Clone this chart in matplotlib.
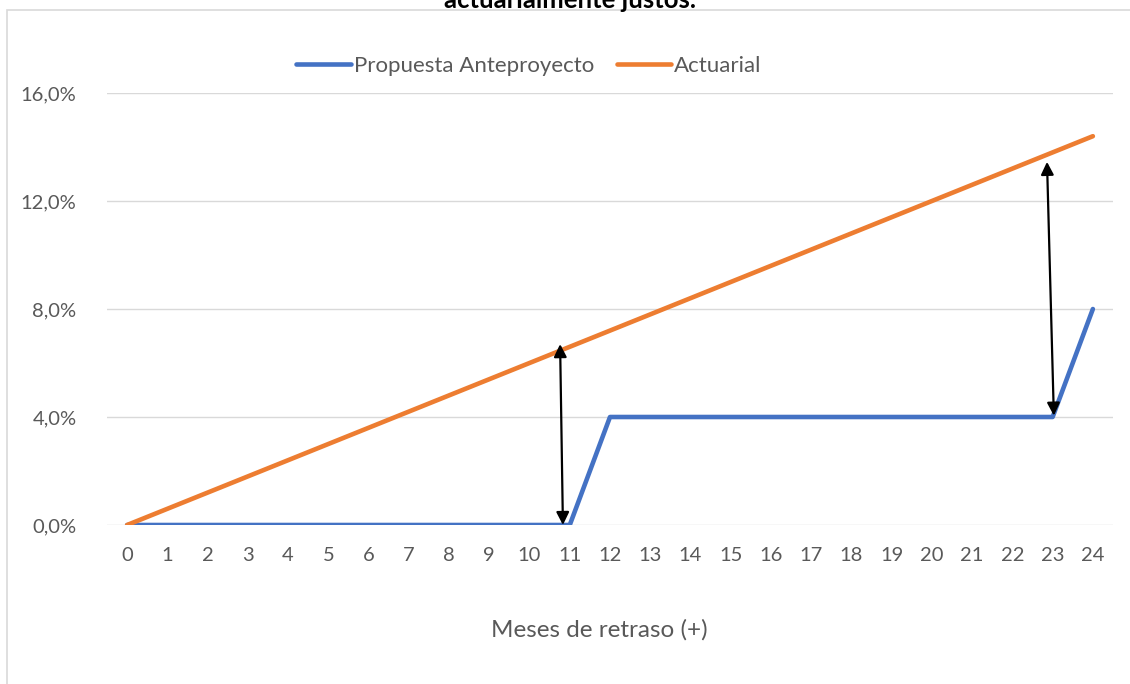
import numpy as np
import matplotlib.pyplot as plt
from matplotlib.patches import Rectangle

plt.rcParams['font.family'] = ['Lato', 'DejaVu Sans']

meses = list(range(25))
propuesta = [0.0] * 12 + [4.0] * 12 + [8.0]
propuesta[11] = 0.0
actuarial = [0.6 * m for m in meses]
# arrows: (x_bottom, y_bottom, x_top, y_top)
flecha_1 = (10.83, 0.0, 10.76, 6.7)
flecha_2 = (23.03, 4.05, 22.86, 13.45)
y_ticks = [0, 4, 8, 12, 16]
y_tick_labels = ['0,0%', '4,0%', '8,0%', '12,0%', '16,0%']

fig = plt.figure(figsize=(11.3, 6.84), dpi=100)
ax = fig.add_axes([107 / 1130, 1 - 525 / 684, (1113 - 107) / 1130, (525 - 93) / 684])

gray_txt = '#595959'
ax.plot(meses, propuesta, color='#4472C4', lw=3.3, solid_capstyle='round',
        solid_joinstyle='round', label='Propuesta Anteproyecto', zorder=3)
ax.plot(meses, actuarial, color='#ED7D31', lw=3.3, solid_capstyle='round',
        solid_joinstyle='round', label='Actuarial', zorder=3)

for xb, yb, xt, yt in [flecha_1, flecha_2]:
    ax.annotate('', xy=(xt, yt), xytext=(xb, yb),
                arrowprops=dict(arrowstyle='<|-|>', color='black', lw=1.6,
                                mutation_scale=19, shrinkA=0, shrinkB=0),
                zorder=4)

ax.set_xlim(-0.5, 24.5)
ax.set_ylim(0, 16)
ax.set_xticks(meses)
ax.set_yticks(y_ticks)
ax.set_yticklabels(y_tick_labels)
ax.grid(axis='y', color='#D9D9D9', lw=1)
ax.set_axisbelow(True)
for s in ax.spines.values():
    s.set_visible(False)
ax.tick_params(axis='both', length=0, labelsize=14.5, colors=gray_txt)
ax.tick_params(axis='y', pad=22)
ax.tick_params(axis='x', pad=16)
ax.set_xlabel('Meses de retraso (+)', fontsize=17.5, color=gray_txt)
ax.xaxis.set_label_coords((599 - 107) / (1113 - 107), -(630 - 525) / (525 - 93))
ax.xaxis.label.set_va('center')

leg = ax.legend(loc='center', bbox_to_anchor=(529 / 1130, 1 - 66 / 684),
                bbox_transform=fig.transFigure, ncol=2, frameon=False,
                fontsize=16, handlelength=2.45, handletextpad=0.15,
                columnspacing=1.0)
for t in leg.get_texts():
    t.set_color(gray_txt)

fig.patches.append(Rectangle((7 / 1130, -0.1), 1.2, 1.1 - 10 / 684,
                             transform=fig.transFigure, fill=False,
                             edgecolor='#D9D9D9', lw=1.2))
fig.text(570 / 1130, 1 - 8 / 684, 'actuarialmente justos.', ha='center',
         va='baseline', fontsize=18.5, fontweight='bold', color='black')

fig.savefig('out.png', dpi=100)
